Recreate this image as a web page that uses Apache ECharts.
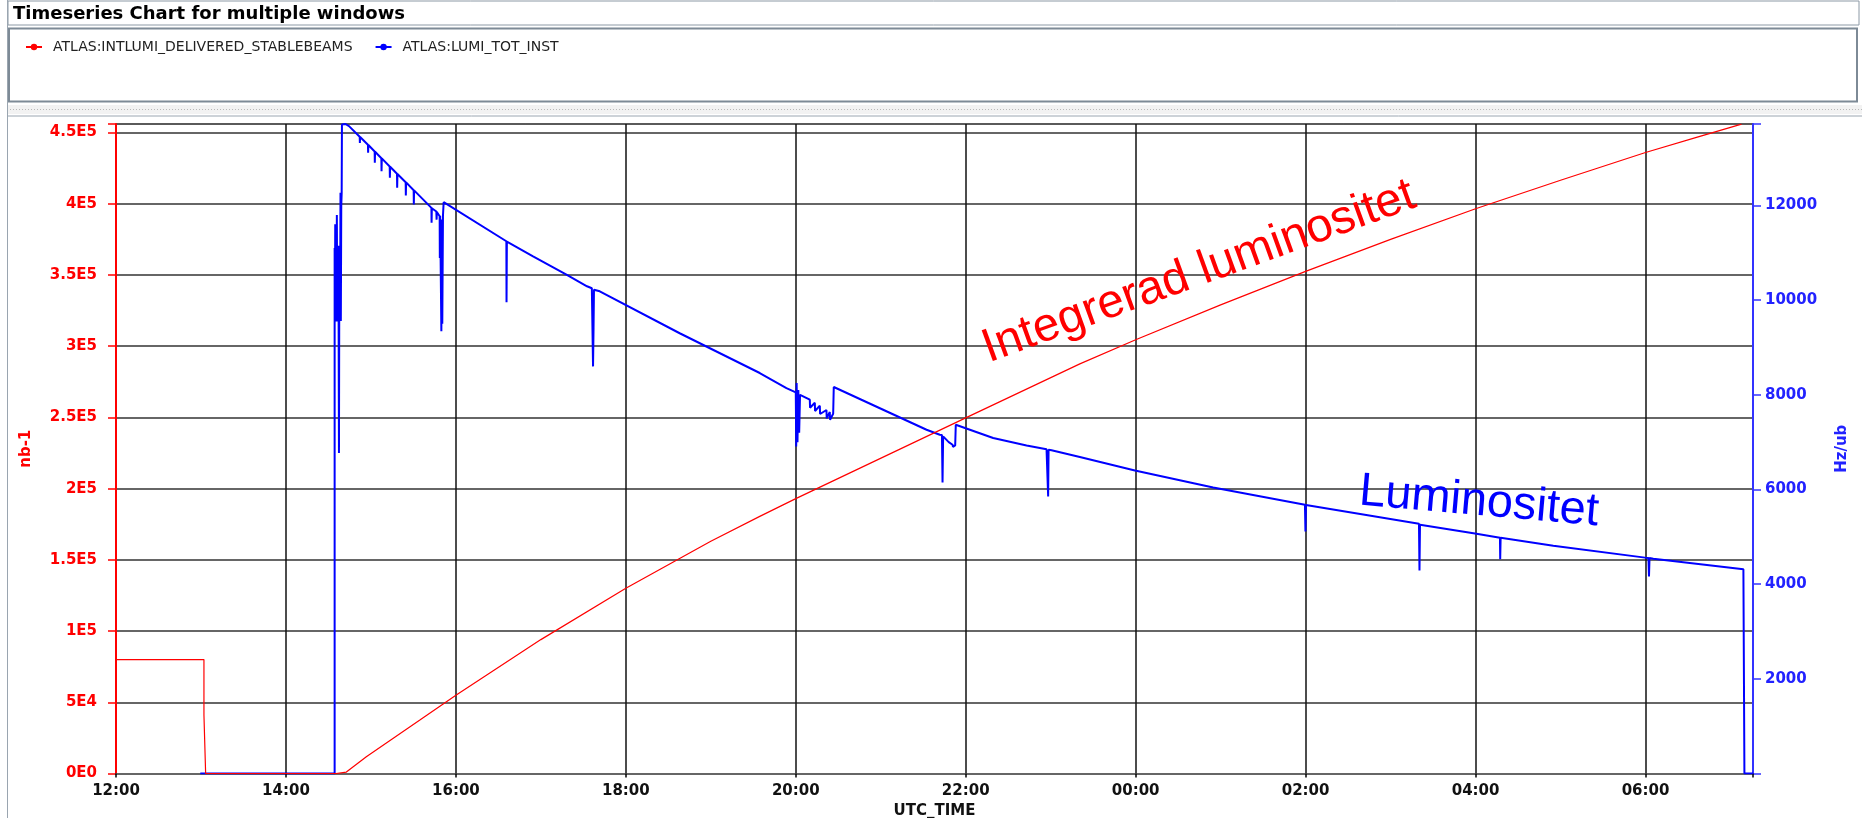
<!DOCTYPE html>
<html><head><meta charset="utf-8">
<script src="https://cdn.jsdelivr.net/npm/echarts@6/dist/echarts.min.js"></script>
<style>html,body{margin:0;padding:0;background:#fff;overflow:hidden}#c{width:1862px;height:818px}</style>
</head><body><div id="c"></div>
<script>
const chartTitle = 'Timeseries Chart for multiple windows';
const seriesNames = ['ATLAS:INTLUMI_DELIVERED_STABLEBEAMS', 'ATLAS:LUMI_TOT_INST'];
const xAxisName = 'UTC_TIME';
const leftAxisName = 'nb-1';
const rightAxisName = 'Hz/ub';
const annotationRed = 'Integrerad luminositet';
const annotationBlue = 'Luminositet';

// time in hours after 12:00 UTC
const intLumiHours  = [0, 1.035, 1.035, 1.055, 1.055, 2.59, 2.60, 2.711, 2.946, 3.576, 4.0, 5.0, 6.0, 7.0, 7.576, 8.0, 10.012, 11.343, 12.0, 13.0, 14.0, 15.0, 16.0, 17.0, 18.0, 18.6, 19.13];
const intLumiValues = [80000, 80000, 41000, 41000, 0, 0, 800, 1000, 11800, 37500, 55000, 94000, 130000, 163000, 180500, 193000, 250000, 287600, 304500, 329000, 352500, 375000, 396500, 416500, 436000, 446600, 455900];

const instLumiHours = [0.992, 2.573, 2.573, 2.576, 2.580, 2.585, 2.590, 2.594, 2.599, 2.604, 2.609, 2.616, 2.620, 2.624, 2.627, 2.632, 2.637, 2.642, 2.646, 2.651, 2.656, 2.659, 2.700, 2.742,
  2.868, 2.870, 2.873, 2.965, 2.967, 2.970, 3.044, 3.046, 3.049, 3.123, 3.125, 3.128, 3.221, 3.223, 3.226, 3.307, 3.309, 3.312, 3.409, 3.411, 3.414, 3.503, 3.505, 3.508,
  3.712, 3.714, 3.717, 3.770, 3.773, 3.776, 3.809, 3.811, 3.815, 3.829, 3.835, 3.840, 3.848, 3.856, 4.594, 4.596, 4.600, 4.908, 5.301, 5.543, 5.600, 5.614, 5.620, 5.625, 5.693,
  6.634, 7.576, 7.890, 8.000, 8.005, 8.010, 8.020, 8.030, 8.040, 8.050, 8.067, 8.165, 8.168, 8.224, 8.227, 8.283, 8.286, 8.361, 8.364, 8.400, 8.403, 8.440, 8.447,
  9.539, 9.695, 9.720, 9.727, 9.734, 9.800, 9.845, 9.850, 9.876, 9.883, 10.323, 10.716, 10.951, 10.970, 10.975, 11.010, 11.343, 11.991, 12.912,
  13.992, 13.998, 14.004, 15.334, 15.340, 15.346, 15.993, 16.287, 16.290, 16.295, 16.915, 17.994, 18.035, 18.041, 18.047, 18.092, 19.152, 19.164, 19.265];
const instLumiValues = [0, 0, 11100, 9550, 11600, 9550, 11150, 9560, 11800, 9550, 11150, 9700, 9560, 6770, 9560, 11150, 9560, 12270, 9560, 12000, 12270, 13710, 13720, 13675,
  13450, 13320, 13445, 13281, 13112, 13276, 13140, 12900, 13135, 12998, 12723, 12993, 12822, 12583, 12817, 12668, 12372, 12663, 12491, 12209, 12486, 12322, 12019, 12317,
  11949, 11632, 11940, 11871, 11700, 11860, 11772, 10892, 11780, 9340, 11700, 9500, 11786, 12068, 11243, 9953, 11235, 10926, 10539, 10292, 10250, 8600, 9400, 10220, 10186,
  9300, 8460, 8140, 8050, 6909, 8249, 7000, 8100, 7200, 8000, 8002, 7896, 7727, 7833, 7657, 7770, 7594, 7679, 7501, 7636, 7474, 7600, 8165,
  7262, 7156, 7150, 6148, 7121, 7000, 6945, 6900, 6930, 7368, 7087, 6930, 6850, 5852, 6840, 6830, 6685, 6402, 6042,
  5677, 5112, 5670, 5275, 4290, 5254, 5070, 4980, 4528, 4978, 4810, 4560, 4552, 4161, 4550, 4535, 4317, 0, 0];

const xTickLabels = ['12:00', '14:00', '16:00', '18:00', '20:00', '22:00', '00:00', '02:00', '04:00', '06:00'];
const leftTickLabels = ['0E0', '5E4', '1E5', '1.5E5', '2E5', '2.5E5', '3E5', '3.5E5', '4E5', '4.5E5'];
const rightTickLabels = ['', '2000', '4000', '6000', '8000', '10000', '12000'];

function pick(labels, step) {
  return function (v) {
    const k = v / step, r = Math.round(k);
    return Math.abs(k - r) < 1e-6 && labels[r] !== undefined ? labels[r] : '';
  };
}
const pairs = (xs, ys) => xs.map((x, i) => [x, ys[i]]);

const FONT = 'DejaVu Sans';
const chart = echarts.init(document.getElementById('c'), null, {renderer: 'canvas'});
chart.setOption({
  animation: false,
  backgroundColor: '#ffffff',
  grid: {left: 116, right: 109, top: 124, bottom: 44.5, show: true, borderColor: '#a0a0a0', borderWidth: 1,
    containLabel: false, outerBoundsMode: 'none'},
  legend: {
    left: 20, top: 35, itemWidth: 16, itemHeight: 8, itemGap: 22,
    data: seriesNames,
    textStyle: {fontFamily: FONT, fontSize: 14, color: '#222', padding: [0, 0, 0, 6]}
  },
  xAxis: {
    type: 'value', min: 0, max: 19.265, interval: 2,
    axisLine: {lineStyle: {color: '#666', width: 2}},
    axisTick: {length: 4, lineStyle: {color: '#000', width: 1.5}},
    axisLabel: {color: '#111', fontFamily: FONT, fontWeight: 'bold', fontSize: 15, margin: 10, formatter: pick(xTickLabels, 2)},
    splitLine: {show: true, lineStyle: {color: '#111', width: 1.5}},
    name: xAxisName, nameLocation: 'middle', nameGap: 30,
    nameTextStyle: {color: '#111', fontFamily: FONT, fontWeight: 'bold', fontSize: 15}
  },
  yAxis: [{
    type: 'value', position: 'left', offset: 6, min: 0, max: 456000, interval: 50000,
    axisLine: {show: true, lineStyle: {color: '#ff0000', width: 2}},
    axisTick: {show: true, length: 8, lineStyle: {color: '#ff0000', width: 1.5}},
    axisLabel: {color: '#ff0000', fontFamily: FONT, fontWeight: 'bold', fontSize: 15, margin: 13, formatter: pick(leftTickLabels, 50000)},
    splitLine: {show: true, lineStyle: {color: '#333', width: 1.5}},
    name: leftAxisName, nameLocation: 'middle', nameGap: 76, nameRotate: 90,
    nameTextStyle: {color: '#ff0000', fontFamily: FONT, fontWeight: 'bold', fontSize: 15}
  }, {
    type: 'value', position: 'right', min: 0, max: 13720, interval: 2000,
    axisLine: {show: true, lineStyle: {color: '#3333ff', width: 2}},
    axisTick: {show: true, length: 8, lineStyle: {color: '#3333ff', width: 1.5}},
    axisLabel: {color: '#2222ff', fontFamily: FONT, fontWeight: 'bold', fontSize: 15, margin: 12, formatter: pick(rightTickLabels, 2000)},
    splitLine: {show: false},
    name: rightAxisName, nameLocation: 'middle', nameGap: 82, nameRotate: 90,
    nameTextStyle: {color: '#2222ff', fontFamily: FONT, fontWeight: 'bold', fontSize: 15}
  }],
  series: [{
    name: seriesNames[0], type: 'line', yAxisIndex: 0, data: pairs(intLumiHours, intLumiValues),
    showSymbol: false, symbol: 'circle', symbolSize: 5, z: 4,
    lineStyle: {color: '#ff0000', width: 1.2}, itemStyle: {color: '#ff0000'}
  }, {
    name: seriesNames[1], type: 'line', yAxisIndex: 1, data: pairs(instLumiHours, instLumiValues),
    showSymbol: false, symbol: 'circle', symbolSize: 5, z: 3,
    lineStyle: {color: '#0000ff', width: 2}, itemStyle: {color: '#0000ff'}
  }],
  graphic: [
    {type: 'rect', shape: {x: 8, y: 1, width: 1851, height: 24}, style: {fill: '#fff', stroke: '#8c99a5', lineWidth: 1}, silent: true, z: -10},
    {type: 'text', x: 13, y: 14, style: {text: chartTitle, font: 'bold 18px "DejaVu Sans"', fill: '#000', textVerticalAlign: 'middle'}, silent: true},
    {type: 'rect', shape: {x: 9, y: 28.5, width: 1848, height: 73}, style: {fill: '#fff', stroke: '#7d8a96', lineWidth: 2}, silent: true, z: -10},
    {type: 'rect', shape: {x: 8, y: 105, width: 1854, height: 9}, style: {fill: '#f2f2f2'}, silent: true, z: -10},
    {type: 'line', shape: {x1: 10, y1: 109.5, x2: 1862, y2: 109.5}, style: {stroke: '#b8b8b8', lineWidth: 1, lineDash: [1, 2]}, silent: true, z: -9},
    {type: 'line', shape: {x1: 8, y1: 116, x2: 1862, y2: 116}, style: {stroke: '#9aa5b0', lineWidth: 1}, silent: true},
    {type: 'line', shape: {x1: 7.5, y1: 0, x2: 7.5, y2: 818}, style: {stroke: '#9aa5b0', lineWidth: 1}, silent: true},
    {type: 'text', x: 1199, y: 272, rotation: 20 * Math.PI / 180,
      style: {text: annotationRed, font: '47.5px "Liberation Sans"', fill: '#ff0000', textAlign: 'center', textVerticalAlign: 'middle'}, silent: true, z: 10},
    {type: 'text', x: 1479, y: 502, rotation: -5 * Math.PI / 180,
      style: {text: annotationBlue, font: '47px "Liberation Sans"', fill: '#0000ff', textAlign: 'center', textVerticalAlign: 'middle'}, silent: true, z: 10}
  ]
});
</script></body></html>
